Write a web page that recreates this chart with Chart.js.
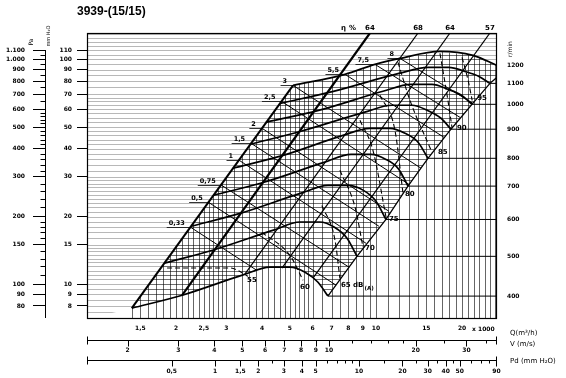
<!DOCTYPE html>
<html>
<head>
<meta charset="utf-8">
<title>3939-(15/15)</title>
<script src="https://cdn.jsdelivr.net/npm/chart.js@4.4.1/dist/chart.umd.min.js"></script>
<style>
  html, body { margin: 0; padding: 0; background: #fff; }
  canvas { display: block; }
</style>
</head>
<body>
<canvas id="grafica" width="566" height="378"></canvas>
<script>
// curvas del ventilador 3939-(15/15): Q en miles de m3/h, presion en mm H2O
const FONT = "'DejaVu Sans', sans-serif";
const qMin = 0.976, qMax = 26.5;
const pMin = 7, pMax = 131;

// curvas a r/min constante
const rpmLabels = [400, 500, 600, 700, 800, 900, 1000, 1100, 1200];
const rpmQ = [
  [1.40, 2.10, 3.43, 4.26, 5.00, 5.65, 6.27, 6.79],
  [1.82, 2.70, 4.38, 5.42, 6.35, 7.16, 7.92, 8.58],
  [2.26, 3.37, 5.47, 6.79, 7.98, 9.01, 10.0, 10.84],
  [2.71, 4.06, 6.58, 8.18, 9.61, 10.84, 12.03, 12.94],
  [3.16, 4.73, 7.67, 9.53, 11.19, 12.63, 14.03, 15.2],
  [3.63, 5.47, 9.08, 11.38, 13.36, 15.14, 16.88, 18.29],
  [4.12, 6.30, 10.58, 13.26, 15.7, 17.85, 19.9, 21.66],
  [4.62, 7.10, 12.03, 15.2, 17.99, 20.47, 22.92, 25.04],
  [5.13, 7.79, 9.92, 12.13, 16.74, 21.84, 26.5]
];
const rpmP = [
  [7.82, 8.93, 11.0, 11.9, 11.9, 11.3, 10.2, 8.85],
  [12.4, 14.2, 17.4, 18.9, 18.9, 17.9, 16.0, 13.3],
  [18.1, 20.7, 25.4, 27.5, 27.5, 26.2, 23.4, 19.4],
  [24.9, 28.4, 34.8, 37.8, 37.8, 35.9, 32.4, 27.3],
  [32.8, 37.4, 45.9, 49.3, 49.3, 46.9, 42.8, 36.3],
  [41.9, 47.9, 58.1, 62.5, 62.5, 59.3, 54.7, 48.9],
  [52.5, 59.3, 72.1, 77.4, 77.4, 73.6, 69.2, 63.1],
  [63.7, 72.1, 86.6, 92.1, 92.1, 88.4, 84.0, 78.2],
  [76.6, 85.8, 95.0, 101, 108.5, 104.2, 94.0]
];

// limite izquierdo y limite derecho de la zona de trabajo
const envQ = [1.40, 5.13];
const envP = [7.82, 76.6];
const bndQ = [6.79, 8.58, 10.84, 12.94, 15.2, 18.29, 21.66, 25.04, 26.5];
const bndP = [8.85, 13.3, 19.4, 27.3, 36.3, 48.9, 63.1, 78.2, 83.2];

// rendimiento (eta %)
const etaLabels = ['64', '68', '64', '57'];
const etaQ = [[2.10, 9.53], [3.48, 14.03], [4.69, 18.15], [6.02, 25.04]];
const etaP = [[8.93, 131], [11.08, 131], [11.78, 131], [10.63, 131]];

// potencia absorbida (kW)
const kwLabels = ['0,33', '0,5', '0,75', '1', '1,5', '2', '2,5', '3', '5,5', '7,5', '8'];
const kwQ = [[2.25, 3.84], [2.60, 7.25], [2.89, 8.05], [3.32, 9.23], [3.66, 10.24], [3.99, 11.1],
             [4.67, 13.04], [5.13, 14.37], [7.79, 17.29], [9.92, 19.67], [12.13, 21.84]];
const kwP = [[17.9, 11.5], [23.1, 9.9], [27.5, 11.9], [35.6, 15.2], [42.3, 18.1], [49.4, 21.1],
             [65.1, 27.8], [76.6, 32.8], [85.8, 45.0], [95.0, 55.2], [101, 63.7]];

// nivel sonoro dB(A)
const dbLabels = ['55', '60', '65', '70', '75', '80', '85', '90', '95'];
const dbQ = [[1.86, 3.09, 3.57], [3.99, 5.0, 5.56], [6.47, 7.19, 7.48], [7.48, 8.45, 9.01], [8.79, 9.76, 10.84],
             [10.33, 11.65, 12.43], [11.94, 13.15, 15.7], [16.74, 17.85, 18.44], [20.0, 21.0, 21.7]];
const dbP = [[11.8, 11.8, 10.85], [17.0, 13.45, 10.4], [22.4, 15.7, 10.6], [32.1, 22.0, 14.6], [53.6, 39.4, 19.9],
             [69.2, 48.4, 25.4], [97, 65.7, 38.6], [106.3, 65.7, 49.9], [102, 80.7, 65.7]];

// ejes
const mmTicks = [8, 9, 10, 15, 20, 30, 40, 50, 60, 70, 80, 90, 100, 110];
const paLabels = ['80', '90', '100', '150', '200', '300', '400', '500', '600', '700', '800', '900', '1.000', '1.100'];
const paMinor = [11, 12, 13, 14, 16, 17, 18, 19, 22, 24, 26, 28, 32, 34, 36, 38, 42, 44, 46, 48, 52, 54, 56, 58, 65, 75, 85, 95, 105];
const qTicks = [1.5, 2, 2.5, 3, 4, 5, 6, 7, 8, 9, 10, 15, 20];
const qLabels = ['1,5', '2', '2,5', '3', '4', '5', '6', '7', '8', '9', '10', '15', '20'];
const vMin = 1.445, vMax = 38.3;
const vTicks = [2, 3, 4, 5, 6, 7, 8, 9, 10, 20, 30];
const vMinor = [12, 14, 16, 18, 25, 35];
const pdMin = 0.129, pdMax = 90.8;
const pdTicks = [0.5, 1, 1.5, 2, 3, 4, 5, 10, 20, 30, 40, 50, 90];
const pdLabels = ['0,5', '1', '1,5', '2', '3', '4', '5', '10', '20', '30', '40', '50', '90'];
const pdMinor = [2.5, 6, 7, 8, 9, 15, 25, 35, 45, 60, 70, 80];

function pasos(desde, hasta, paso) {
  const out = [];
  for (let v = desde; v < hasta - 1e-9; v += paso) out.push(Math.round(v * 100) / 100);
  return out;
}
const hGrid = [].concat(pasos(7.5, 15, 0.5), pasos(15, 30, 1), pasos(30, 50, 2), pasos(50, 70, 2.5), pasos(70, 135, 5));
const vGrid = [].concat(pasos(1, 3, 0.1), pasos(3, 6, 0.2), pasos(6, 10, 0.5), pasos(10, 27, 1));

function linea(qs, ps, extra) {
  return Object.assign({
    data: qs.map((q, i) => ({ x: q, y: ps[i] })),
    xAxisID: 'x', yAxisID: 'y',
    borderColor: '#000', borderWidth: 1, pointRadius: 0, fill: false, tension: 0
  }, extra);
}

const datasets = [];
rpmQ.forEach((qs, i) => {
  datasets.push(linea(qs, rpmP[i], { borderWidth: 1.7, cubicInterpolationMode: 'monotone' }));
  const n = qs.length - 1;
  if (qs[n] < qMax) datasets.push(linea([qs[n], qMax], [rpmP[i][n], rpmP[i][n]]));
});
datasets.push(linea(envQ, envP, { borderWidth: 2 }));
datasets.push(linea(bndQ, bndP, { borderWidth: 1.3 }));
etaQ.forEach((qs, i) => datasets.push(linea(qs, etaP[i], { borderWidth: i === 0 ? 2.2 : 1.2 })));
kwQ.forEach((qs, i) => datasets.push(linea(qs, kwP[i])));
dbQ.forEach((qs, i) => datasets.push(linea(qs, dbP[i], { borderWidth: 1.1, borderDash: [5, 3], cubicInterpolationMode: 'monotone' })));

function px(chart, qs, ps) {
  const sx = chart.scales.x, sy = chart.scales.y;
  return qs.map((q, i) => [sx.getPixelForValue(q), sy.getPixelForValue(ps[i])]);
}
function recorte(ctx, poly) {
  ctx.beginPath();
  poly.forEach(([x, y], i) => i ? ctx.lineTo(x, y) : ctx.moveTo(x, y));
  ctx.closePath();
  ctx.clip();
}

// rejilla recortada como en el original
const rejilla = {
  id: 'rejilla',
  beforeDatasetsDraw(chart) {
    const { ctx, chartArea: a, scales } = chart;
    const low = px(chart, rpmQ[0], rpmP[0]);
    const top = px(chart, rpmQ[8], rpmP[8]);
    const bnd = px(chart, bndQ, bndP);
    const env = px(chart, envQ, envP);
    const hLines = (color) => {
      ctx.strokeStyle = color; ctx.lineWidth = 1;
      ctx.beginPath();
      hGrid.forEach(v => {
        const y = Math.round(scales.y.getPixelForValue(v)) + 0.5;
        ctx.moveTo(a.left, y); ctx.lineTo(a.right, y);
      });
      ctx.stroke();
    };
    const vLines = (color) => {
      ctx.strokeStyle = color; ctx.lineWidth = 1;
      ctx.beginPath();
      vGrid.forEach(v => {
        const x = Math.round(scales.x.getPixelForValue(v)) + 0.5;
        ctx.moveTo(x, a.top); ctx.lineTo(x, a.bottom);
      });
      ctx.stroke();
    };
    const bndRev = bnd.slice().reverse();
    const lowRev = low.slice().reverse();

    ctx.save();
    recorte(ctx, [[a.left, a.top], [a.right, a.top], ...bndRev, ...lowRev, [a.left, a.bottom]]);
    hLines('rgba(0,0,0,0.28)');
    ctx.restore();

    ctx.save();
    recorte(ctx, [[env[0][0], a.bottom], ...env, ...top.slice(1), [a.right, a.bottom]]);
    vLines('rgba(0,0,0,0.6)');
    ctx.restore();

    ctx.save();
    recorte(ctx, [...env, ...top.slice(1), ...bndRev, ...lowRev]);
    hLines('rgba(0,0,0,0.4)');
    ctx.restore();
  }
};

function vertical(ctx, text, x, y) {
  ctx.save();
  ctx.translate(x, y);
  ctx.rotate(-Math.PI / 2);
  ctx.fillText(text, 0, 0);
  ctx.restore();
}

const textos = {
  id: 'textos',
  afterDraw(chart) {
    const { ctx, chartArea: a, scales } = chart;
    const sx = scales.x, sy = scales.y;
    ctx.save();
    ctx.fillStyle = '#000';
    ctx.strokeStyle = '#000';

    // marco
    ctx.lineWidth = 1.2;
    ctx.strokeRect(a.left + 0.5, a.top + 0.5, a.right - a.left - 1, a.bottom - a.top - 1);

    // titulo
    ctx.font = "bold 12px 'Liberation Sans', Arial, sans-serif";
    ctx.textAlign = 'left'; ctx.textBaseline = 'middle';
    ctx.fillText('3939-(15/15)', 77, 12);

    // titulos de ejes
    ctx.textAlign = 'center';
    ctx.font = '6px ' + FONT;
    vertical(ctx, 'Pa', 31, 42);
    ctx.font = '5px ' + FONT;
    vertical(ctx, 'mm H\u2082O', 49, 36);
    ctx.font = '6px ' + FONT;
    vertical(ctx, 'r/min', 510, 49);

    ctx.textAlign = 'left';
    ctx.font = '7px ' + FONT;
    ctx.fillText('Q(m\u00b3/h)', 510, 333);
    ctx.fillText('V (m/s)', 510, 344);
    ctx.fillText('Pd (mm H\u2082O)', 510, 361);
    ctx.font = 'bold 6px ' + FONT;
    ctx.fillText('x 1000', 472, 329);

    // eje Pa
    const pa = scales.yPa;
    const xr = Math.round(pa.right) - 0.5;
    ctx.lineWidth = 1;
    ctx.beginPath();
    ctx.moveTo(xr, sy.getPixelForValue(110));
    ctx.lineTo(xr, a.bottom - 1);
    paMinor.forEach(v => {
      const y = Math.round(sy.getPixelForValue(v)) + 0.5;
      ctx.moveTo(xr - 5, y); ctx.lineTo(xr, y);
    });
    ctx.stroke();

    // ejes V y Pd
    const inferior = (sc, major, minor) => {
      const y = Math.round(sc.top) + 0.5;
      ctx.beginPath();
      ctx.moveTo(a.left, y); ctx.lineTo(a.right, y);
      ctx.moveTo(a.left + 0.5, y - 4); ctx.lineTo(a.left + 0.5, y + 4);
      ctx.moveTo(a.right - 0.5, y - 4); ctx.lineTo(a.right - 0.5, y + 4);
      major.forEach(v => {
        const x = Math.round(sc.getPixelForValue(v)) + 0.5;
        ctx.moveTo(x, y); ctx.lineTo(x, y + 6);
      });
      minor.forEach(v => {
        const x = Math.round(sc.getPixelForValue(v)) + 0.5;
        ctx.moveTo(x, y); ctx.lineTo(x, y + 3);
      });
      ctx.stroke();
    };
    inferior(scales.xV, vTicks, vMinor);
    inferior(scales.xPd, pdTicks, pdMinor);

    // rendimiento
    ctx.font = 'bold 7px ' + FONT;
    ctx.textBaseline = 'alphabetic';
    ctx.textAlign = 'left';
    ctx.fillText('\u03b7', 341, 30);
    ctx.fillText('%', 349, 30);
    ctx.textAlign = 'center';
    etaLabels.forEach((t, i) => {
      ctx.fillText(t, sx.getPixelForValue(etaQ[i][1]), 30);
    });

    // potencia kW
    ctx.textAlign = 'left';
    ctx.font = 'bold 6.5px ' + FONT;
    ctx.lineWidth = 0.8;
    kwLabels.forEach((t, i) => {
      const x0 = sx.getPixelForValue(kwQ[i][0]), y0 = sy.getPixelForValue(kwP[i][0]);
      const w = ctx.measureText(t).width;
      ctx.fillText(t, x0 - w - 6, y0 - 2);
      ctx.beginPath();
      ctx.moveTo(x0 - w - 8, Math.round(y0) + 0.5);
      ctx.lineTo(x0, Math.round(y0) + 0.5);
      ctx.stroke();
    });

    // dB(A)
    const dbOff = [[-1, 4], [-3, 7], [1, 7], [2, 1], [3, 2], [2, 1], [6, 0], [5, 1], [5, -2]];
    ctx.font = 'bold 7px ' + FONT;
    ctx.textBaseline = 'middle';
    dbLabels.forEach((t, i) => {
      const n = dbQ[i].length - 1;
      const x0 = sx.getPixelForValue(dbQ[i][n]) + dbOff[i][0];
      const y0 = sy.getPixelForValue(dbP[i][n]) + dbOff[i][1];
      ctx.fillText(t, x0, y0);
      if (i === 2) {
        const w = ctx.measureText(t + ' ').width;
        ctx.fillText('dB', x0 + w, y0);
        const w2 = ctx.measureText('dB').width;
        ctx.font = 'bold 5.5px ' + FONT;
        ctx.fillText('(A)', x0 + w + w2 + 1, y0 + 3);
        ctx.font = 'bold 7px ' + FONT;
      }
    });
    ctx.restore();
  }
};

const fTick = { family: FONT, size: 6, weight: 'bold' };

new Chart(document.getElementById('grafica'), {
  type: 'line',
  data: { datasets: datasets },
  options: {
    responsive: false,
    devicePixelRatio: 1,
    animation: false,
    events: [],
    layout: { padding: { top: 33, left: 0, right: 0, bottom: 0 } },
    plugins: { legend: { display: false }, tooltip: { enabled: false } },
    scales: {
      x: {
        type: 'logarithmic', min: qMin, max: qMax, position: 'bottom', weight: 0,
        afterBuildTicks: s => { s.ticks = qTicks.map(v => ({ value: v })); },
        afterFit: s => { s.height = 21; },
        grid: { display: false, drawTicks: false },
        border: { display: false },
        ticks: { autoSkip: false, maxRotation: 0, padding: 6, color: '#000', font: fTick, callback: (v, i) => qLabels[i] }
      },
      xV: {
        type: 'logarithmic', min: vMin, max: vMax, position: 'bottom', weight: 1,
        afterBuildTicks: s => { s.ticks = vTicks.map(v => ({ value: v })); },
        afterFit: s => { s.height = 20; },
        grid: { display: false, drawTicks: false },
        border: { display: false },
        ticks: { autoSkip: false, maxRotation: 0, padding: 7, color: '#000', font: fTick, callback: (v, i) => String(vTicks[i]) }
      },
      xPd: {
        type: 'logarithmic', min: pdMin, max: pdMax, position: 'bottom', weight: 2,
        afterBuildTicks: s => { s.ticks = pdTicks.map(v => ({ value: v })); },
        afterFit: s => { s.height = 18; },
        grid: { display: false, drawTicks: false },
        border: { display: false },
        ticks: { autoSkip: false, maxRotation: 0, padding: 8, color: '#000', font: fTick, callback: (v, i) => pdLabels[i] }
      },
      y: {
        type: 'logarithmic', min: pMin, max: pMax, position: 'left', weight: 0,
        afterBuildTicks: s => { s.ticks = mmTicks.map(v => ({ value: v })); },
        afterFit: s => { s.width = 41; },
        grid: { drawOnChartArea: false, tickLength: 10, tickColor: '#000', color: '#000' },
        border: { display: false },
        ticks: { autoSkip: false, padding: 5, color: '#000', font: fTick, callback: (v, i) => String(mmTicks[i]) }
      },
      yPa: {
        type: 'logarithmic', min: pMin, max: pMax, position: 'left', weight: 1,
        afterBuildTicks: s => { s.ticks = mmTicks.map(v => ({ value: v })); },
        afterFit: s => { s.width = 46; },
        grid: { drawOnChartArea: false, tickLength: 13, tickColor: '#000', color: '#000' },
        border: { display: false },
        ticks: { autoSkip: false, padding: 8, color: '#000', font: fTick, callback: (v, i) => paLabels[i] }
      },
      y2: {
        type: 'logarithmic', min: pMin, max: pMax, position: 'right',
        afterBuildTicks: s => { s.ticks = rpmP.map(p => ({ value: p[p.length - 1] })); },
        afterFit: s => { s.width = 69; },
        grid: { display: false, drawTicks: false },
        border: { display: false },
        ticks: { autoSkip: false, padding: 10, color: '#000', font: fTick, callback: (v, i) => String(rpmLabels[i]) }
      }
    }
  },
  plugins: [rejilla, textos]
});
</script>
</body>
</html>
